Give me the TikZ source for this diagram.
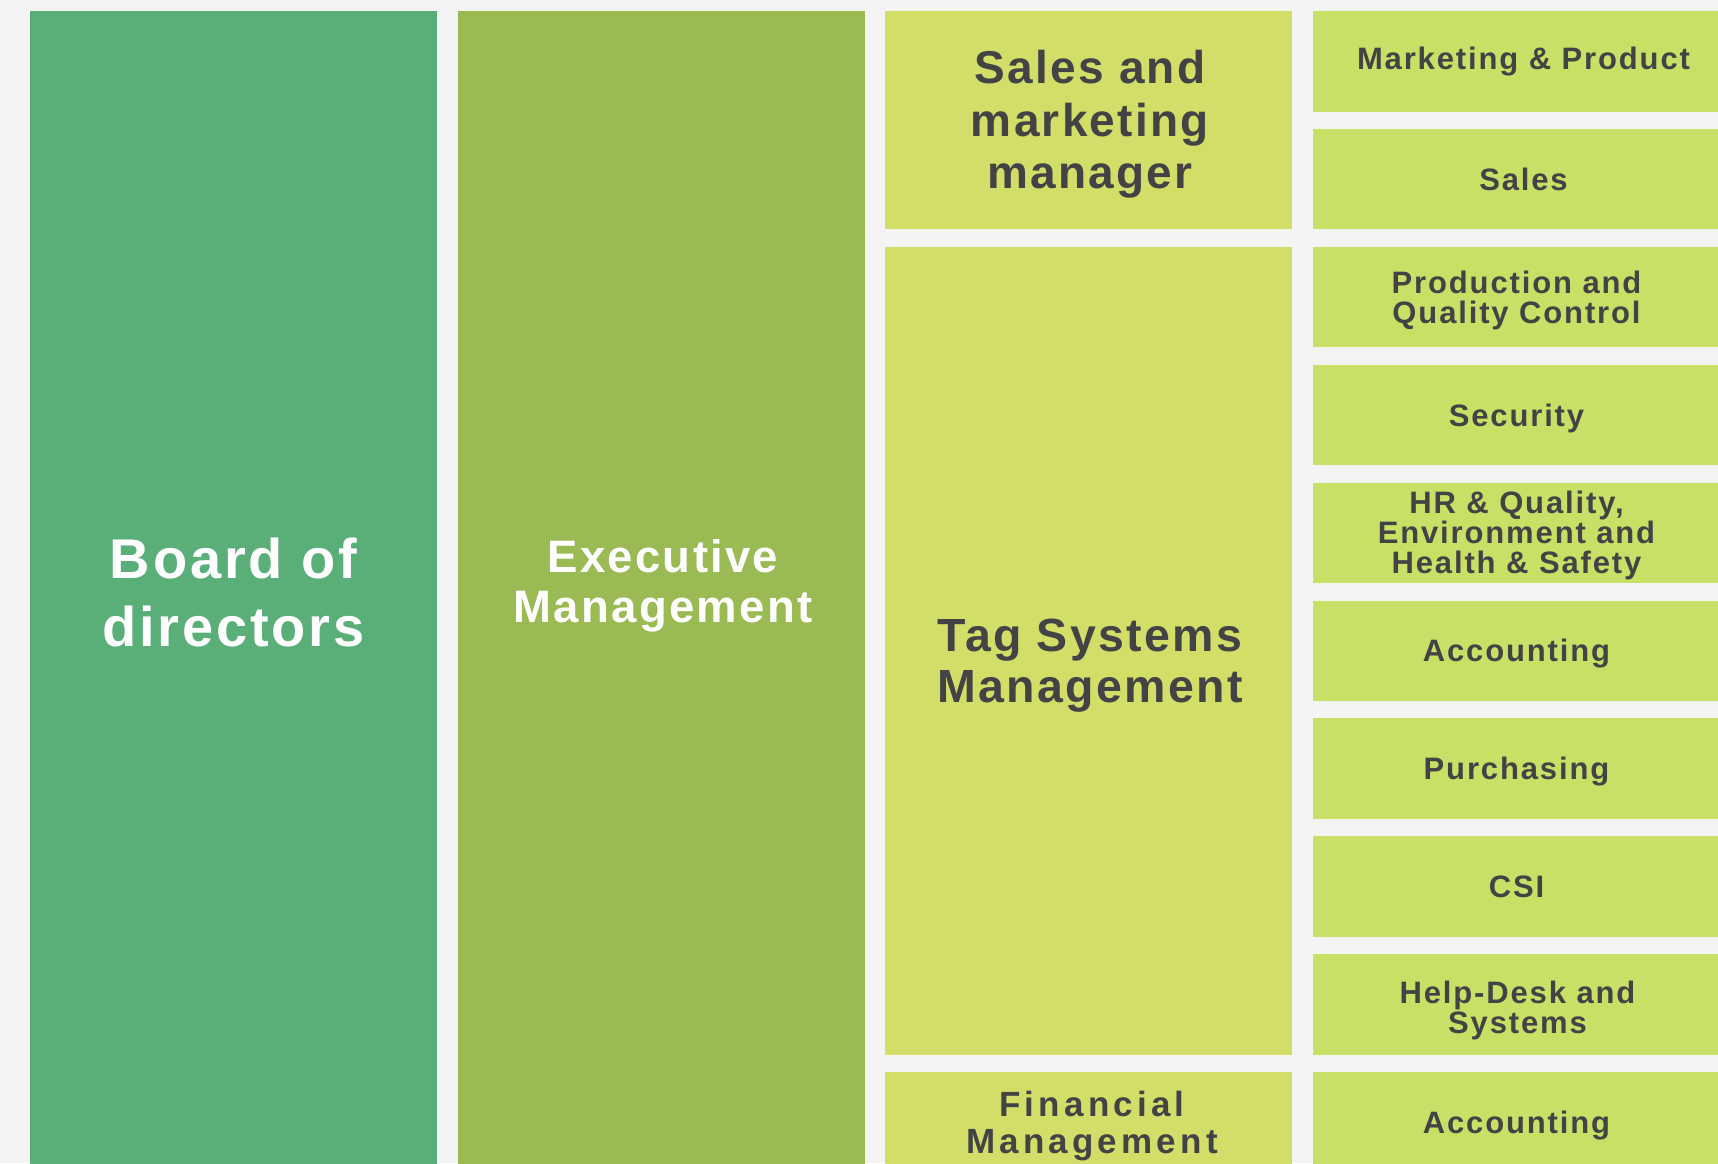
\documentclass[tikz,border=0pt]{standalone}
\usepackage{fontspec}
\setmainfont{Liberation Sans}[LetterSpace=5]

\definecolor{pagegray}{RGB}{244,244,244}
\definecolor{boardgreen}{RGB}{90,175,121}
\definecolor{execgreen}{RGB}{154,186,83}
\definecolor{midlime}{RGB}{210,222,104}
\definecolor{deptlime}{RGB}{201,224,102}
\definecolor{inkgray}{RGB}{67,67,69}

% struts so a label is centred on its capitals
\newcommand{\linetop}{\vrule width 0pt height 1em\relax}
\newcommand{\linebot}{\vrule width 0pt depth .284em\relax}

\begin{document}
\begin{tikzpicture}[x=1pt, y=-1pt,
    boxtext/.style={align=center, inner sep=0pt},
    toptext/.style={boxtext, text=white},
    midtext/.style={boxtext, text=inkgray},
    depttext/.style={boxtext, text=inkgray,
        font=\fontsize{31}{30}\selectfont\bfseries\addfontfeatures{LetterSpace=6}}]

    % Draw the page
    \fill[pagegray] (0, 0) rectangle (1718, 1163);
    \useasboundingbox (0, 0) rectangle (1718, 1163);

    % Draw the two top columns
    \fill[boardgreen] (30, 11) rectangle (437, 1172.5);
    \fill[execgreen] (458, 11) rectangle (865, 1172.5);
    \node[toptext, font=\fontsize{56}{68}\selectfont\bfseries] (board) at (233.5, 592)
        {\linetop Board of\\directors\linebot};
    \node[toptext, font=\fontsize{45.5}{50}\selectfont\bfseries] (exec) at (663, 581.2)
        {\linetop Executive\\Management\linebot};

    % Draw the managers
    \fill[midlime] (885, 11) rectangle (1292, 229.4);
    \fill[midlime] (885, 246.8) rectangle (1292, 1054.7);
    \fill[midlime] (885, 1072.1) rectangle (1292, 1172.6);
    \node[midtext, font=\fontsize{46}{52.5}\selectfont\bfseries] (salesmgr) at (1090, 120)
        {\linetop Sales and\\marketing\\manager\linebot};
    \node[midtext, font=\fontsize{46.5}{51}\selectfont\bfseries] (tagmgr) at (1090, 659.9)
        {\linetop Tag Systems\\Management\linebot};
    \node[midtext, font=\fontsize{35}{37}\selectfont\bfseries\addfontfeatures{LetterSpace=12}]
        (finmgr) at (1092, 1122.2) {\linetop Financial\\Management\linebot};

    % Draw the departments
    \fill[deptlime] (1313, 11) rectangle (1720, 111.5);
    \fill[deptlime] (1313, 128.9) rectangle (1720, 229.4);
    \fill[deptlime] (1313, 246.8) rectangle (1720, 347.3);
    \fill[deptlime] (1313, 364.7) rectangle (1720, 465.2);
    \fill[deptlime] (1313, 482.6) rectangle (1720, 583.1);
    \fill[deptlime] (1313, 600.5) rectangle (1720, 701);
    \fill[deptlime] (1313, 718.4) rectangle (1720, 818.9);
    \fill[deptlime] (1313, 836.3) rectangle (1720, 936.8);
    \fill[deptlime] (1313, 954.2) rectangle (1720, 1054.7);
    \fill[deptlime] (1313, 1072.1) rectangle (1720, 1172.6);

    % Labels for the departments
    \node[depttext] (mktprod) at (1523.5, 57.9) {\linetop Marketing \& Product\linebot};
    \node[depttext] (sales) at (1523.5, 179.15) {\linetop Sales\linebot};
    \node[depttext] (production) at (1516.5, 297.05) {\linetop Production and\\Quality Control\linebot};
    \node[depttext] (security) at (1516.5, 414.95) {\linetop Security\linebot};
    \node[depttext] (hrqehs) at (1516.5, 532.85)
        {\linetop HR \& Quality,\\Environment and\\Health \& Safety\linebot};
    \node[depttext] (accounting) at (1516.5, 650.75) {\linetop Accounting\linebot};
    \node[depttext] (purchasing) at (1516.5, 768.65) {\linetop Purchasing\linebot};
    \node[depttext] (csi) at (1516.5, 886.55) {\linetop CSI\linebot};
    \node[depttext] (helpdesk) at (1517.5, 1007.2) {\linetop Help-Desk and\\Systems\linebot};
    \node[depttext] (finaccounting) at (1516.5, 1122.35) {\linetop Accounting\linebot};
\end{tikzpicture}
\end{document}
